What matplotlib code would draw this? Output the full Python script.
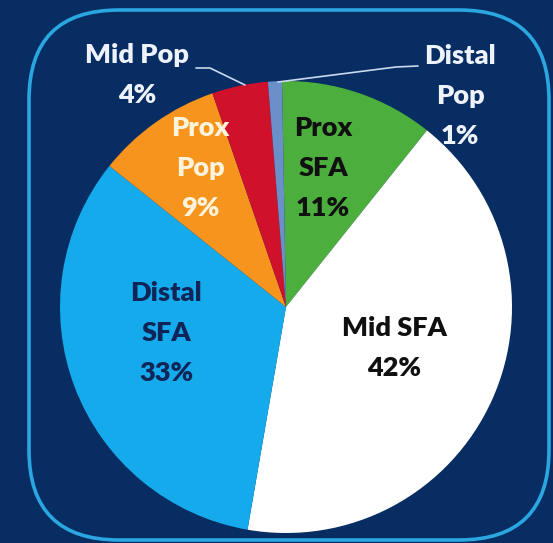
import matplotlib
matplotlib.use("Agg")
import matplotlib.pyplot as plt
from matplotlib.patches import FancyBboxPatch

# Segment shares (clockwise from the top)
categories = ["Prox\nSFA", "Mid SFA", "Distal\nSFA", "Prox\nPop", "Mid Pop", "Distal\nPop"]
values = [11, 42, 33, 9, 4, 1]
colors = ["#4cae3c", "#ffffff", "#14aaeb", "#f7941e", "#d0112b", "#6b8fc9"]
text_colors = ["#101010", "#101010", "#0f2557", "#fbf3dc", "#eef3fb", "#eef3fb"]

W, H = 553, 543
BG = "#072d63"

fig = plt.figure(figsize=(W / 100, H / 100), dpi=100, facecolor=BG)
ax = fig.add_axes([0, 0, 1, 1])
ax.set_facecolor(BG)


def py(y):
    """Convert a top-down pixel row to the axis y coordinate."""
    return H - y


# rounded frame
frame = FancyBboxPatch((29, py(540)), 520, 530,
                       boxstyle="round,pad=0,rounding_size=90",
                       facecolor="none", edgecolor="#2aa6e0", linewidth=2.6,
                       zorder=1)
ax.add_patch(frame)

wedges, _ = ax.pie(values, colors=colors, startangle=91, counterclock=False,
                   center=(286, py(307)), radius=226,
                   wedgeprops=dict(linewidth=0), frame=True)
ax.set_xlim(0, W)
ax.set_ylim(0, H)
ax.set_aspect("equal")
ax.axis("off")

font = dict(family=["Lato", "DejaVu Sans"], fontweight="heavy", fontsize=19.5,
            ha="center", va="center", linespacing=1.78, zorder=5)

label_pos = [(323, 168), (394, 348), (166, 333), (200, 168), (137, 75), (460, 96)]
for name, val, tc, (x, y) in zip(categories, values, text_colors, label_pos):
    ax.text(x, py(y), f"{name}\n{val}%", color=tc, **font)

# leader lines for the two small outer segments
lead = dict(color="#c9d9f0", linewidth=1.2, zorder=4, solid_capstyle="round")
ax.plot([196, 210, 245], [py(68), py(68), py(85)], **lead)
ax.plot([278, 396, 418], [py(82), py(67), py(66)], **lead)

fig.savefig("out.png", dpi=100, facecolor=BG)
